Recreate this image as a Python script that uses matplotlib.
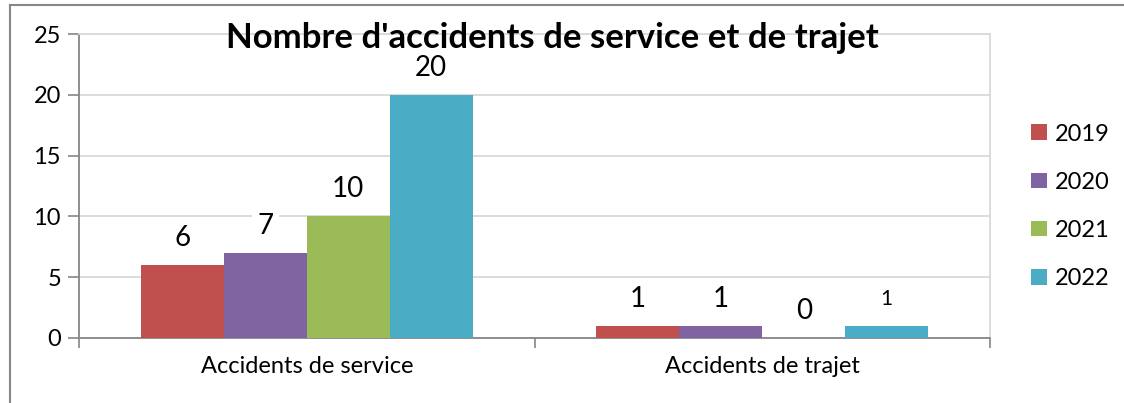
import matplotlib.pyplot as plt
import numpy as np
from matplotlib.lines import Line2D

categories = ["Accidents de service", "Accidents de trajet"]
years = ["2019", "2020", "2021", "2022"]
v2019 = [6, 1]
v2020 = [7, 1]
v2021 = [10, 0]
v2022 = [20, 1]
series = [v2019, v2020, v2021, v2022]
colors = ["#C0504D", "#8064A2", "#9BBB59", "#4BACC6"]

plt.rcParams['font.family'] = ['Lato', 'DejaVu Sans']

fig = plt.figure(figsize=(11.24, 4.03), dpi=100)
ax = fig.add_axes([0.0703, 0.1613, 0.8105, 0.7543])

x = np.arange(len(categories))
w = 0.182
for i, (vals, c, yr) in enumerate(zip(series, colors, years)):
    pos = x + (i - 1.5) * w
    ax.bar(pos, vals, width=w, color=c, label=yr, zorder=3)
    for p, v in zip(pos, vals):
        small = (i == 3 and v == 1)
        ax.annotate(str(v), (p, v), xytext=(0, 27),
                    textcoords="offset pixels", ha="center", va="center",
                    fontsize=15 if small else 20, zorder=4,
                    bbox=dict(boxstyle="square,pad=0.2", fc="white", ec="none"))

ax.set_xlim(-0.5, 1.5)
ax.set_ylim(0, 25)
ax.set_yticks([0, 5, 10, 15, 20, 25])
ax.yaxis.grid(True, color="#D9D9D9", linewidth=1.3, zorder=0)
ax.set_axisbelow(True)

ax.set_xticks(x)
ax.set_xticklabels(categories, fontsize=17)
ax.set_xticks([-0.5, 0.5, 1.5], minor=True)
ax.tick_params(axis="x", which="major", length=0, pad=13)
ax.tick_params(axis="x", which="minor", length=7, color="#868686", width=1.2)
ax.tick_params(axis="y", length=8, color="#868686", width=1.2, labelsize=17, pad=5)

for s in ["left", "bottom"]:
    ax.spines[s].set_color("#868686")
    ax.spines[s].set_linewidth(1.3)
for s in ["top", "right"]:
    ax.spines[s].set_color("#D9D9D9")
    ax.spines[s].set_linewidth(1.3)

fig.text(0.491, 0.905, "Nombre d'accidents de service et de trajet",
         ha="center", va="center", fontsize=25, fontweight="bold", zorder=10)

ax.legend(loc="center left", bbox_to_anchor=(0.909, 0.488),
          bbox_transform=fig.transFigure, frameon=False, fontsize=17,
          handlelength=0.65, handleheight=0.65, handletextpad=0.35,
          labelspacing=1.15, borderaxespad=0)

fig.add_artist(Line2D([0.009, 0.009], [0, 0.988], transform=fig.transFigure,
                      color="#868686", linewidth=1.5))
fig.add_artist(Line2D([0.009, 1.0], [0.988, 0.988], transform=fig.transFigure,
                      color="#868686", linewidth=1.5))

fig.savefig("out.png", dpi=100)
